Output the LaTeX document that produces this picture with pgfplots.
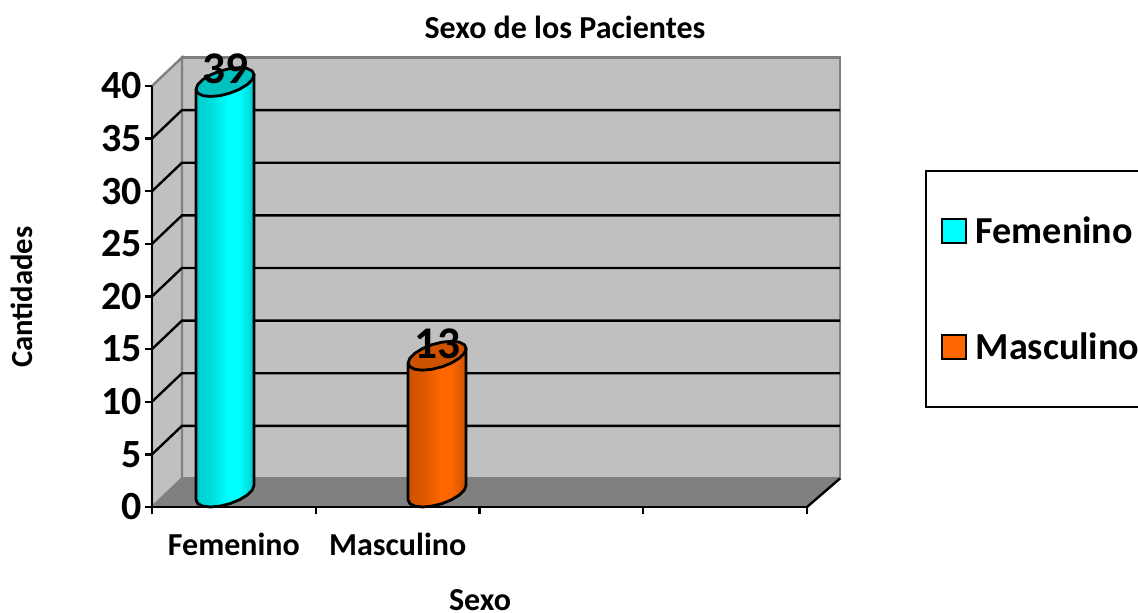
\documentclass[border=0pt]{standalone}
\usepackage{fontspec}
\setmainfont{Carlito}
\usepackage{pgfplots}
\usepackage{pgfplotstable}
\pgfplotsset{compat=1.18}
\definecolor{wall}{HTML}{C0C0C0}
\definecolor{floorc}{HTML}{808080}
\definecolor{cy}{HTML}{00FFFF}
\definecolor{cyd}{HTML}{00CCCC}
\definecolor{cycap}{HTML}{00C0C0}
\definecolor{or}{HTML}{FF6600}
\definecolor{ord}{HTML}{CC5200}
\definecolor{orcap}{HTML}{CC5200}
\pgfdeclarehorizontalshading{cybar}{100bp}{color(0bp)=(cyd); color(25bp)=(cyd); color(40bp)=(cyd!60!cy); color(53bp)=(cy); color(62bp)=(cy); color(75bp)=(cyd); color(100bp)=(cyd)}
\pgfdeclarehorizontalshading{orbar}{100bp}{color(0bp)=(ord); color(25bp)=(ord); color(40bp)=(ord!60!or); color(53bp)=(or); color(62bp)=(or); color(75bp)=(ord); color(100bp)=(ord)}
% outline of the tilted cylinder, offsets in px from the bar centre
\pgfplotstableread{
dx dy lev
-29 -7.25 0
-27.25 -11.09 0
-22.2 -13.59 0
-14.5 -14.45 0
-5.04 -13.57 0
5.04 -11.05 0
14.5 -7.2 0
22.2 -2.49 0
27.25 2.53 0
29 7.25 0
29 7.25 1
-29 -7.25 1
}\bodytable
\pgfplotstableread{
dx dy lev
29 7.25 1
27.25 11.09 1
22.2 13.59 1
14.5 14.45 1
5.04 13.57 1
-5.04 11.05 1
-14.5 7.2 1
-22.2 2.49 1
-27.25 -2.53 1
-29 -7.25 1
-27.25 -11.09 1
-22.2 -13.59 1
-14.5 -14.45 1
-5.04 -13.57 1
5.04 -11.05 1
14.5 -7.2 1
22.2 -2.49 1
27.25 2.53 1
}\captable
\newcommand{\cylinder}[4]{%
  \addplot[forget plot,draw=black,line width=2.1pt,line join=round,shading=#3]
    table[x expr=#1+\thisrow{dx}/163.75,y expr=\thisrow{lev}*#2+(14.45+\thisrow{dy})/10.525] {\bodytable} --cycle;
  \addplot[forget plot,draw=black,line width=2.1pt,line join=round,fill=#4]
    table[x expr=#1+\thisrow{dx}/163.75,y expr=\thisrow{lev}*#2+(14.45+\thisrow{dy})/10.525] {\captable} --cycle;
}
\begin{document}
\begin{tikzpicture}
\path[use as bounding box] (0,0) rectangle (853.5pt,459.75pt);
\begin{axis}[
  at={(114pt,79.5pt)},anchor=south west,
  scale only axis,width=491.25pt,height=315.75pt,
  xmin=0,xmax=4,ymin=0,ymax=40,clip=false,
  axis x line*=bottom,axis y line*=left,
  axis line style={line width=2pt,black,-},
  axis on top,
  ytick={0,5,...,40},
  xtick={0,1,2,3,4},
  xticklabels={Femenino,Masculino,,,},
  x tick label as interval,
  tick style={black,line width=1.8pt},
  major tick length=5.5pt,
  tick align=outside,
  /pgf/number format/assume math mode=true,
  yticklabel style={font=\fontsize{30}{30}\selectfont\bfseries,inner sep=1pt,xshift=-1pt},
  xticklabel style={font=\fontsize{24}{24}\selectfont\bfseries,yshift=-10.5pt},
  title={Sexo de los Pacientes},
  title style={font=\fontsize{24}{26}\selectfont\bfseries,at={(axis description cs:0.6305,1.121)},anchor=center},
  xlabel={Sexo},
  xlabel style={font=\fontsize{24}{24}\selectfont\bfseries,inner sep=0pt,at={(axis description cs:0.5008,-0.221)},anchor=center},
  ylabel={Cantidades},
  ylabel style={font=\fontsize{23}{24}\selectfont\bfseries,inner sep=0pt,at={(axis description cs:-0.1992,0.4986)},anchor=center,rotate=0},
  legend style={at={(axis description cs:1.1817,0.798)},anchor=north west,draw=none,fill=none,
    font=\fontsize{28.6}{30}\selectfont\bfseries,row sep=65.5pt,inner xsep=11pt,inner ysep=34pt,
    nodes={inner sep=0pt,text depth=0.15em},
    /tikz/every odd column/.append style={column sep=6.25pt}},
  legend cell align=left,
]
% walls and floor
\addplot[forget plot,draw=floorc,line width=1.8pt,fill=wall] coordinates {(0.1832,2.71)(4.2015,2.71)(4.2015,42.71)(0.1832,42.71)} --cycle;
\addplot[forget plot,draw=floorc,line width=1.8pt,fill=wall] coordinates {(0,0)(0.1832,2.71)(0.1832,42.71)(0,40)} --cycle;
\addplot[forget plot,draw=floorc,line width=1pt,fill=floorc] coordinates {(0,0)(0.1832,2.71)(4.2015,2.71)(4,0)} --cycle;
\addplot[forget plot,draw=black,line width=1.8pt] coordinates {(4,0)(4.2015,2.71)};
% gridlines over back and side wall
\addplot[forget plot,draw=black,line width=1.8pt] coordinates {(0,5)(0.1832,7.71)(4.2015,7.71)};
\addplot[forget plot,draw=black,line width=1.8pt] coordinates {(0,10)(0.1832,12.71)(4.2015,12.71)};
\addplot[forget plot,draw=black,line width=1.8pt] coordinates {(0,15)(0.1832,17.71)(4.2015,17.71)};
\addplot[forget plot,draw=black,line width=1.8pt] coordinates {(0,20)(0.1832,22.71)(4.2015,22.71)};
\addplot[forget plot,draw=black,line width=1.8pt] coordinates {(0,25)(0.1832,27.71)(4.2015,27.71)};
\addplot[forget plot,draw=black,line width=1.8pt] coordinates {(0,30)(0.1832,32.71)(4.2015,32.71)};
\addplot[forget plot,draw=black,line width=1.8pt] coordinates {(0,35)(0.1832,37.71)(4.2015,37.71)};
% legend frame, its right side runs past the page as in the original
\addplot[forget plot,draw=black,line width=1.8pt] coordinates {(6.2,31.92)(4.7267,31.92)(4.7267,9.5)(6.2,9.5)};
% cylinders
\cylinder{0.446}{39}{cybar}{cycap}
\cylinder{1.741}{13}{orbar}{orcap}
% values
\addplot[forget plot,ybar,bar width=43.5pt,bar shift=0pt,draw=none,fill=none,
  nodes near coords,
  nodes near coords style={font=\fontsize{34}{34}\selectfont\bfseries,text=black,anchor=center,yshift=21pt,/pgf/number format/assume math mode=true}]
  coordinates {(0.446,39)};
\addplot[forget plot,ybar,bar width=43.5pt,bar shift=0pt,draw=none,fill=none,
  nodes near coords,
  nodes near coords style={font=\fontsize{34}{34}\selectfont\bfseries,text=black,anchor=center,yshift=20pt,/pgf/number format/assume math mode=true}]
  coordinates {(1.741,13)};
\addlegendimage{legend image code/.code={\draw[black,line width=1.8pt,fill=cy] (0pt,-9pt) rectangle (18pt,9pt);}}
\addlegendentry{Femenino}
\addlegendimage{legend image code/.code={\draw[black,line width=1.8pt,fill=or] (0pt,-9pt) rectangle (18pt,9pt);}}
\addlegendentry{Masculino}
\end{axis}
\end{tikzpicture}
\end{document}
